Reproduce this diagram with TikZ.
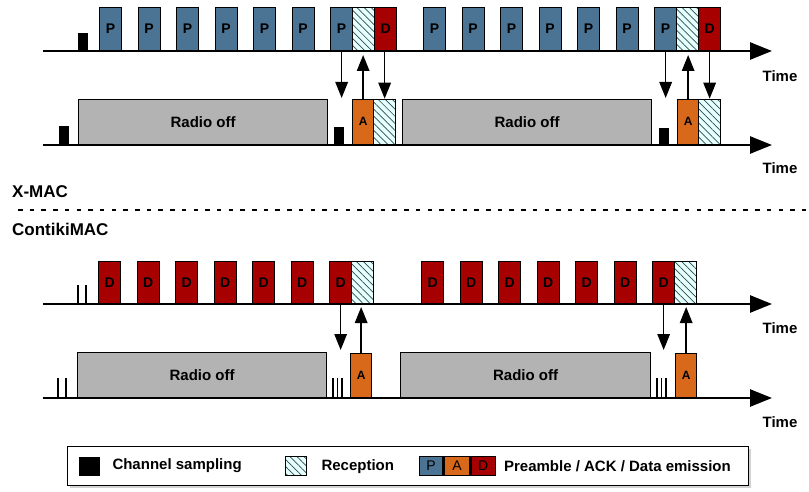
\documentclass[tikz,border=0pt]{standalone}
\usepackage{fontspec}
\setmainfont{Liberation Sans}
\usetikzlibrary{arrows.meta, patterns.meta, shadows, positioning}

\definecolor{preblue}{HTML}{4A7394}
\definecolor{ackorange}{HTML}{D9691A}
\definecolor{datared}{HTML}{A60000}
\definecolor{offgray}{HTML}{B3B3B3}
\definecolor{rxcyan}{HTML}{E6FFFF}
\definecolor{hatch}{HTML}{2F4A4A}

\tikzset{
  frame/.style={draw, line width=1.3pt, anchor=south west, inner sep=0pt,
    font=\bfseries\fontsize{14}{14}\selectfont},
  pre/.style={frame, fill=preblue, minimum width=22pt, minimum height=43pt},
  dat/.style={frame, fill=datared, minimum width=22pt, minimum height=42pt},
  ack/.style={frame, fill=ackorange, minimum width=21pt,
    font=\bfseries\fontsize{12}{12}\selectfont},
  rx/.style={frame, preaction={fill=rxcyan},
    pattern={Lines[angle=-45, distance=5pt, line width=0.7pt]}, pattern color=hatch,
    minimum width=22pt},
  off/.style={frame, fill=offgray, minimum width=249pt, minimum height=45pt,
    font=\bfseries\fontsize{15}{15}\selectfont},
  samp/.style={fill=black, anchor=south west, inner sep=0pt, minimum width=10pt},
  axis/.style={line width=2.6pt, -{Triangle[length=22pt, width=17pt]}},
  msg/.style={line width=1.5pt, -{Triangle[length=16pt, width=12.5pt]}},
  tick/.style={line width=1.3pt},
  lbl/.style={inner sep=0pt, font=\bfseries\fontsize{15}{15}\selectfont},
  legtxt/.style={inner sep=0pt, anchor=west, font=\bfseries\fontsize{15}{15}\selectfont},
  legicon/.style={draw, line width=1.3pt, anchor=north west, inner sep=0pt,
    minimum height=19pt, font=\fontsize{14}{14}\selectfont}
}

\begin{document}
\begin{tikzpicture}[x=1pt, y=-1pt]
  \useasboundingbox (0,0) rectangle (809,492);
  \def\gap{38.5}

  % X-MAC, sender
  \coordinate (s1) at (43,51);
  \coordinate (e1) at (772,51);
  \draw[axis] (s1) -- (e1);
  \node[samp, minimum height=18pt] (cs1) at (78,51) {};
  \foreach \i in {0,...,6} {
    \node[pre] (pa\i) at ({99+\gap*\i},51) {P};
    \node[pre] (pb\i) at ({423+\gap*\i},51) {P};
  }
  \node[rx, minimum height=43pt] (xra) at (352,51) {};
  \node[dat, minimum height=43pt] (xda) at (374,51) {D};
  \node[rx, minimum height=43pt] (xrb) at (676,51) {};
  \node[dat, minimum height=43pt] (xdb) at (698,51) {D};
  \node[lbl] (time1) at (780,76) {Time};

  % X-MAC, receiver
  \coordinate (s2) at (43,145);
  \coordinate (e2) at (772,145);
  \draw[axis] (s2) -- (e2);
  \node[samp, minimum height=19pt] (cs2) at (59,145) {};
  \node[off] (offa) at (78,145) {Radio off};
  \node[samp, minimum height=18pt] (cs3) at (334,145) {};
  \node[ack, minimum height=45pt] (xaa) at (352,145) {A};
  \node[rx, minimum height=45pt] (xrra) at (373,145) {};
  \node[off] (offb) at (402,145) {Radio off};
  \node[samp, minimum height=17pt] (cs4) at (659,145) {};
  \node[ack, minimum height=45pt] (xab) at (677,145) {A};
  \node[rx, minimum height=45pt] (xrrb) at (698,145) {};
  \node[lbl] (time2) at (780,168) {Time};

  \coordinate (xwa) at (341,98);
  \coordinate (xwb) at (665,98);
  \draw[msg] (pa6.south) -- (pa6.south |- xwa);
  \draw[msg, shorten >=4pt] (xaa.north) -- (xaa.north |- xra.south);
  \draw[msg] (xrra.north |- xda.south) -- (xrra.north);
  \draw[msg] (pb6.south) -- (pb6.south |- xwb);
  \draw[msg, shorten >=4pt] (xab.north) -- (xab.north |- xrb.south);
  \draw[msg] (xrrb.north |- xdb.south) -- (xrrb.north);

  % separation
  \node[anchor=west, inner sep=0pt, font=\bfseries\fontsize{17}{17}\selectfont] (xmac) at (12,192) {X-MAC};
  \coordinate (da) at (18,210);
  \coordinate (db) at (808,210);
  \draw[line width=1.5pt, dash pattern=on 4.5pt off 7.2pt] (da) -- (db);
  \node[anchor=west, inner sep=0pt, font=\bfseries\fontsize{17}{17}\selectfont] (cmac) at (12,229) {ContikiMAC};

  % ContikiMAC, sender
  \coordinate (s3) at (43,304);
  \coordinate (e3) at (772,304);
  \draw[axis] (s3) -- (e3);
  \foreach \x in {78,86}
    \draw[tick] (\x,304) -- (\x,285);
  \foreach \i in {0,...,6} {
    \node[dat] (da\i) at ({98+\gap*\i},304) {D};
    \node[dat] (db\i) at ({421+\gap*\i},304) {D};
  }
  \node[rx, minimum height=42pt] (cra) at (351,304) {};
  \node[rx, minimum height=42pt] (crb) at (674,304) {};
  \node[lbl] (time3) at (780,328) {Time};

  % ContikiMAC, receiver
  \coordinate (s4) at (43,398);
  \coordinate (e4) at (772,398);
  \draw[axis] (s4) -- (e4);
  \foreach \x in {58,66,333,337.5,342,657,661.5,666}
    \draw[tick] (\x,398) -- (\x,378);
  \node[off] (offc) at (77,398) {Radio off};
  \node[ack, minimum height=44pt] (caa) at (350,398) {A};
  \node[off, minimum width=250pt] (offd) at (400,398) {Radio off};
  \node[ack, minimum height=44pt] (cab) at (675,398) {A};
  \node[lbl] (time4) at (780,422) {Time};

  \coordinate (cwa) at (340,350);
  \coordinate (cwb) at (663,350);
  \draw[msg] (da6.south) -- (da6.south |- cwa);
  \draw[msg, shorten >=3pt] (caa.north) -- (caa.north |- cra.south);
  \draw[msg] (db6.south) -- (db6.south |- cwb);
  \draw[msg, shorten >=3pt] (cab.north) -- (cab.north |- crb.south);

  % legend
  \node[draw, line width=1.2pt, fill=white, anchor=north west, minimum width=681pt,
    minimum height=39pt, inner sep=0pt,
    drop shadow={opacity=0.35, shadow xshift=2.5pt, shadow yshift=-2.5pt}] (legend) at (67,446) {};
  \node[legicon, draw=none, fill=black, minimum width=21pt] (lsamp) at (78,456) {};
  \node[legtxt, right=12pt of lsamp] (lsampt) {Channel sampling};
  \node[legicon, rx, anchor=north west, minimum width=21pt, minimum height=19pt] (lrx) at (285,456) {};
  \node[legtxt, right=14pt of lrx] (lrxt) {Reception};
  \node[legicon, fill=preblue, minimum width=23pt] (lp) at (419,456) {P};
  \node[legicon, fill=ackorange, minimum width=26pt, right=0pt of lp] (la) {A};
  \node[legicon, fill=datared, minimum width=24pt, right=0pt of la] (ld) {D};
  \node[legtxt, right=8pt of ld] (ldt) {Preamble / ACK / Data emission};
\end{tikzpicture}
\end{document}
